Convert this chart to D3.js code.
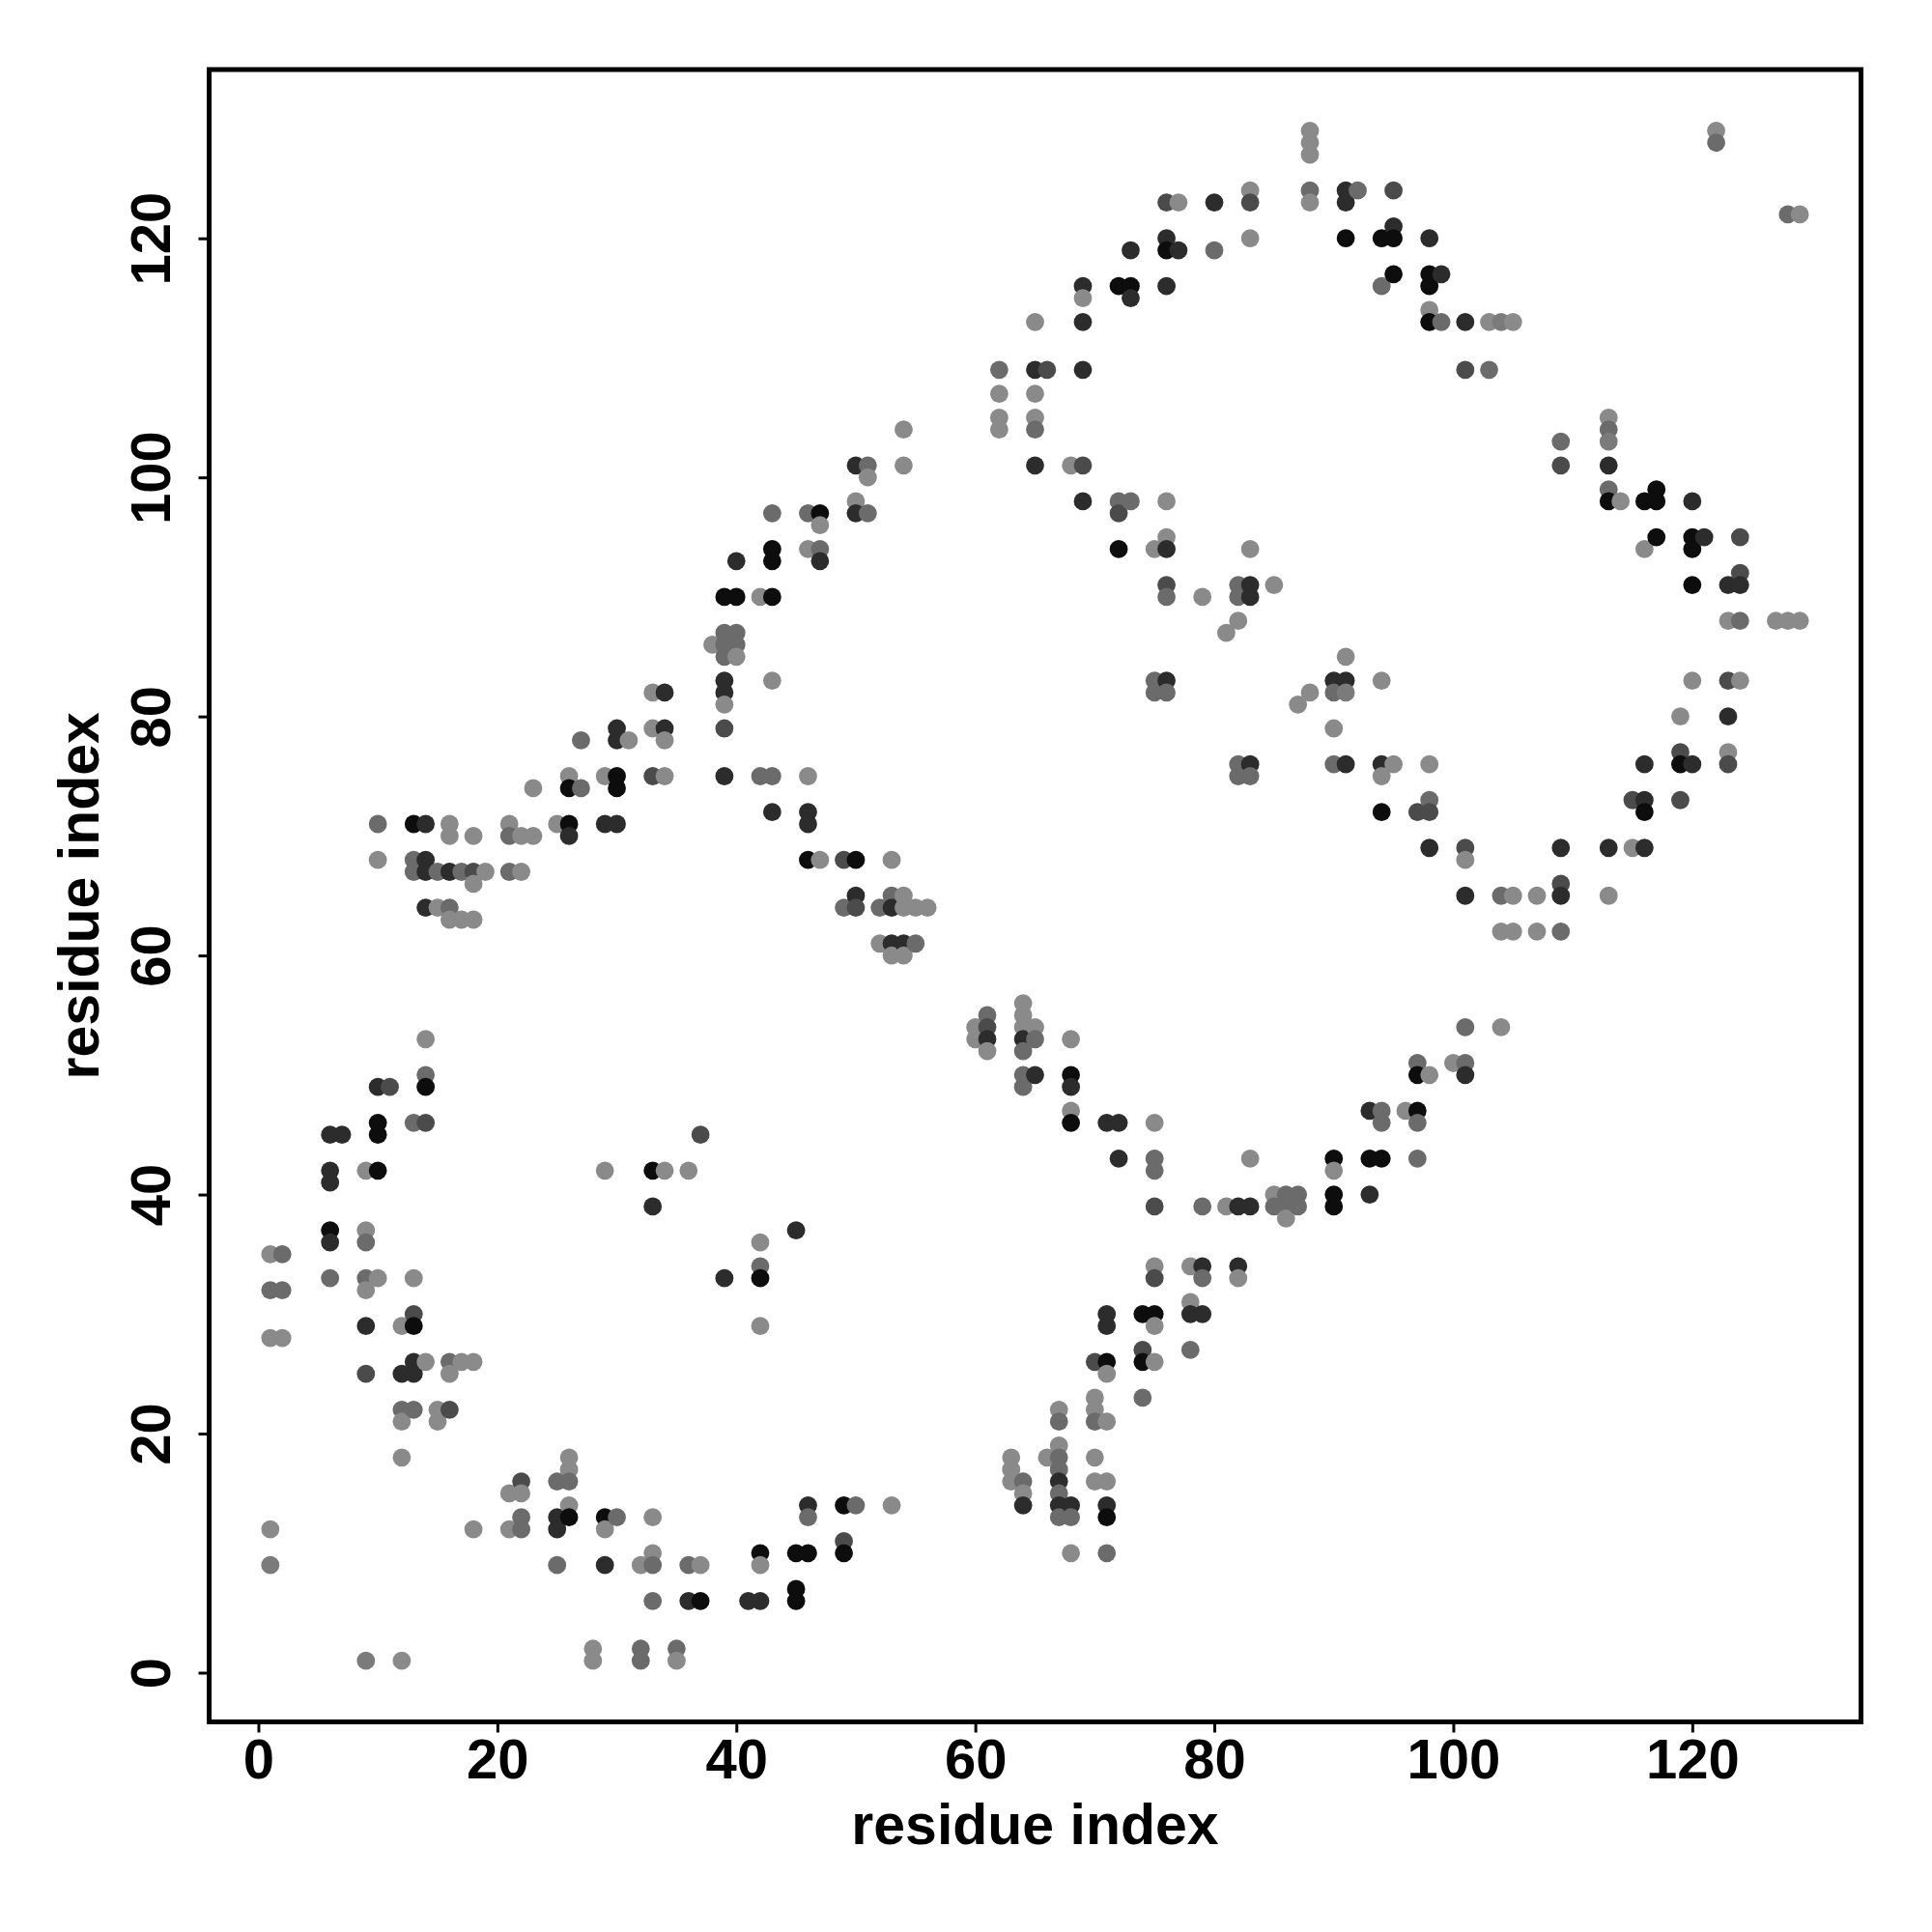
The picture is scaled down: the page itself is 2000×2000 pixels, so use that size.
<!DOCTYPE html>
<html>
<head>
<meta charset="utf-8">
<script src="https://cdn.jsdelivr.net/npm/d3@7"></script>
<style>
  html, body { margin: 0; padding: 0; background: #fff; }
  svg { display: block; }
  text { font-family: "Liberation Sans", Arial, Helvetica, sans-serif; font-weight: bold; }
</style>
</head>
<body>
<svg id="chart" width="2000" height="2000"></svg>
<script>
// residue i (x) of each column of contacts
const residueI = [1,2,6,7,9,10,11,12,13,14,15,16,17,18,19,21,22,23,25,26,27,28,29,30,31,32,33,34,35,36,37,38,39,40,41,42,43,45,46,47,49,50,51,52,53,54,55,56,60,61,62,63,64,65,66,67,68,69,70,71,72,73,74,75,76,77,78,79,80,81,82,83,85,86,87,88,90,91,92,93,94,95,96,97,98,99,100,101,103,104,105,107,109,113,114,115,116,117,119,120,121,122,123,124,127,128,129];

// contact partners j (y) for each residue i
const residueJ = [
  [35,32,28,12,9],[35,32,28],[45,42,41,37,36,33],[45],[42,37,36,33,32,29,25,1],
  [71,68,49,46,45,42,33],[49],[29,25,22,21,18,1],[71,68,67,46,33,30,29,26,25,22],
  [71,68,67,64,53,50,49,46,26],[67,64,22,21],[71,70,67,64,63,26,25,22],[67,63,26],
  [70,67,66,63,26,12],[67],[71,70,67,15,12],[70,67,16,15,13,12],[74,70],[71,16,13,12,9],
  [75,74,71,70,18,17,16,14,13],[78,74],[2,1],[75,71,42,13,12,9],[79,78,75,74,71,13],[78],
  [9,2,1],[82,79,75,42,39,13,10,9,6],[82,79,78,75,42],[2,1],[42,9,6],[45,9,6],[86],
  [90,87,86,85,83,82,81,79,75,33],[93,90,87,86,85],[6],[90,75,36,34,33,29,10,9,6],
  [97,94,93,90,83,75,72],[37,10,7,6],[97,94,75,72,71,68,14,13,10],[97,96,94,93,68],
  [68,64,14,11,10],[101,98,97,68,65,64,14],[101,100,97],[64,61],[68,65,64,61,60,14],
  [104,101,65,64,61,60],[64,61],[64],[54,53],[55,54,53,52],[109,107,105,104],[18,17,16],
  [56,55,54,53,52,50,49,16,15,14],[113,109,107,105,104,101,54,53,50],[109,18],
  [22,21,19,18,17,16,15,14,13],[101,53,50,49,47,46,14,13,10],[116,115,113,109,101,98],
  [26,23,22,21,18,16],[46,30,29,26,25,21,16,14,13,10],[116,98,97,94,46,43],[119,116,115,98],
  [30,27,26,23],[94,83,82,46,43,42,39,34,33,30,29,26],[123,120,119,116,98,95,94,91,90,83,82],
  [123,119],[34,31,30,27],[90,39,34,33,30],[123,119],[87,39],[91,90,88,76,75,39,34,33],
  [124,123,120,94,91,90,76,75,43,39],[91,40,39],[40,39,38],[81,40,39],[129,128,127,124,123,82],
  [83,82,79,76,43,42,40,39],[124,123,120,85,83,82,76],[124],[47,43,40],[120,116,83,76,75,72,47,46,43],
  [124,121,120,117,76],[47],[72,51,50,47,46,43],[120,117,116,114,113,76,73,72,69,50],[117,113],[51],
  [113,109,69,68,65,54,51,50],[113,109],[113,65,62,54],[113,65,62],[65,62],[103,101,69,66,65,62],
  [105,104,103,101,99,98,69,65],[98],[73,69],[98,94,76,73,72,69],[99,98,95],[80,77,76,73],
  [98,95,94,91,83,76],[95],[129,128],[91,88,83,80,77,76],[95,92,91,88,83],[88],[122,88],[122,88]
];

// contact probability (darker = higher) for each point
const contactProb = [
  [.35,.5,.35,.35,.42],[.5,.5,.35],[.8,.8,.8,.95,.8,.5],[.8],[.35,.35,.5,.5,.35,.8,.65,.42],
  [.5,.35,.8,.95,.95,.95,.35],[.65],[.35,.8,.5,.35,.35,.35],[.95,.5,.5,.5,.35,.65,.95,.8,.8,.5],
  [.8,.8,.8,.8,.35,.5,.95,.65,.35],[.5,.35,.35,.35],[.35,.35,.8,.5,.35,.5,.35,.65],[.5,.35,.35],
  [.35,.65,.35,.35,.35,.35],[.35],[.35,.5,.5,.35,.35],[.35,.35,.65,.35,.5,.5],[.35,.35],[.35,.5,.8,.8,.5],
  [.35,.95,.95,.8,.35,.35,.5,.35,.95],[.5,.5],[.35,.35],[.35,.8,.35,.95,.35,.8],[.8,.8,.95,.95,.8,.5],[.35],
  [.35,.5,.5],[.35,.35,.65,.95,.8,.35,.35,.5,.5],[.8,.8,.35,.35,.35],[.5,.35],[.35,.5,.8],[.65,.35,.95],[.35],
  [.95,.5,.5,.5,.8,.8,.35,.65,.8,.8],[.8,.95,.5,.5,.35],[.8],[.35,.5,.35,.5,.95,.35,.95,.35,.8],
  [.5,.95,.95,.95,.35,.5,.8],[.8,.95,.95,.95],[.5,.35,.35,.8,.8,.95,.8,.5,.95],[.95,.35,.5,.8,.35],
  [.65,.5,.95,.65,.95],[.8,.35,.8,.95,.8,.65,.5],[.5,.35,.5],[.5,.35],[.35,.5,.8,.8,.35,.35],
  [.35,.35,.35,.35,.8,.35],[.35,.5],[.35],[.35,.35],[.5,.65,.8,.35],[.5,.35,.35,.35],[.35,.35,.35],
  [.35,.35,.35,.8,.5,.5,.5,.5,.35,.8],[.35,.8,.35,.35,.5,.8,.35,.5,.8],[.65,.35],
  [.35,.5,.35,.5,.5,.8,.5,.8,.5],[.35,.35,.95,.8,.35,.95,.8,.5,.35],[.8,.35,.8,.8,.65,.8],
  [.65,.35,.35,.5,.35,.35],[.8,.8,.8,.95,.35,.35,.35,.8,.95,.5],[.95,.5,.65,.95,.8,.8],[.8,.95,.8,.5],
  [.95,.65,.95,.5],[.35,.5,.5,.35,.5,.5,.65,.35,.65,.95,.35,.35],[.65,.8,.95,.8,.35,.35,.8,.65,.5,.8,.5],
  [.35,.8],[.35,.35,.8,.5],[.35,.5,.8,.5,.8],[.8,.5],[.35,.35],[.5,.5,.35,.5,.5,.8,.8,.35],
  [.35,.65,.35,.35,.8,.8,.8,.5,.35,.8],[.35,.35,.5],[.5,.5,.35],[.35,.5,.5],[.35,.35,.35,.5,.35,.35],
  [.8,.5,.35,.5,.95,.35,.95,.95],[.8,.8,.95,.35,.8,.42,.8],[.5],[.8,.95,.8],[.95,.5,.35,.8,.35,.95,.5,.5,.95],
  [.65,.8,.95,.95,.35],[.35],[.65,.5,.95,.95,.5,.5],[.8,.95,.95,.35,.95,.35,.5,.65,.8,.35],[.8,.5],[.35],
  [.8,.65,.65,.35,.8,.5,.5,.8],[.35,.5],[.42,.5,.35,.35],[.35,.35,.35],[.35,.35],[.5,.65,.8,.65,.8,.5],
  [.35,.5,.42,.8,.5,.95,.8,.35],[.35],[.65,.35],[.95,.35,.8,.8,.95,.8],[.95,.95,.95],[.35,.65,.95,.65],
  [.8,.95,.95,.95,.35,.8],[.8],[.35,.5],[.8,.35,.65,.8,.35,.65],[.65,.65,.8,.5,.35],[.35],[.5,.35],[.35,.35]
];

const tickValues = [0, 20, 40, 60, 80, 100, 120];
const axisTitle = "residue index";

(function () {
  // build point table
  const points = [];
  residueI.forEach((i, k) => {
    residueJ[k].forEach((j, m) => points.push({ i, j, p: contactProb[k][m] }));
  });

  const svg = d3.select("#chart");
  const pLeft = 216.5, pRight = 1926.5, pTop = 72, pBottom = 1782.5;
  const x = d3.scaleLinear().domain([-4.12, 134.12]).range([pLeft, pRight]);
  const y = d3.scaleLinear().domain([-4.12, 134.12]).range([pBottom, pTop]);
  const gray = d3.scaleLinear().domain([0.35, 0.95]).range(["#8a8a8a", "#0d0d0d"]).clamp(true);

  // points
  svg.append("g")
    .selectAll("circle")
    .data(points)
    .join("circle")
    .attr("cx", d => x(d.i))
    .attr("cy", d => y(d.j))
    .attr("r", 9.4)
    .attr("fill", d => gray(d.p));

  // x axis
  const gx = svg.append("g")
    .attr("transform", `translate(0,${pBottom})`)
    .call(d3.axisBottom(x).tickValues(tickValues).tickSize(11).tickSizeOuter(0).tickPadding(6));
  gx.select(".domain").remove();
  gx.selectAll(".tick line").attr("stroke", "#000").attr("stroke-width", 3);
  gx.selectAll(".tick text")
    .attr("font-size", 58).attr("fill", "#000")
    .attr("font-family", '"Liberation Sans", Arial, sans-serif').attr("font-weight", "bold")
    .attr("y", 0).attr("dy", 0)
    .attr("transform", "translate(0,58.5)");

  // y axis
  const gy = svg.append("g")
    .attr("transform", `translate(${pLeft},0)`)
    .call(d3.axisLeft(y).tickValues(tickValues).tickSize(11).tickSizeOuter(0));
  gy.select(".domain").remove();
  gy.selectAll(".tick line").attr("stroke", "#000").attr("stroke-width", 3);
  gy.selectAll(".tick text")
    .attr("font-size", 58).attr("fill", "#000")
    .attr("font-family", '"Liberation Sans", Arial, sans-serif').attr("font-weight", "bold")
    .attr("x", 0).attr("dy", 0)
    .attr("text-anchor", "middle")
    .attr("transform", "translate(-41,0) rotate(-90)");

  // frame
  svg.append("rect")
    .attr("x", pLeft).attr("y", pTop)
    .attr("width", pRight - pLeft).attr("height", pBottom - pTop)
    .attr("fill", "none").attr("stroke", "#000").attr("stroke-width", 5);

  // axis titles
  svg.append("text")
    .attr("x", (pLeft + pRight) / 2).attr("y", 1909)
    .attr("text-anchor", "middle").attr("font-size", 59)
    .text(axisTitle);

  svg.append("text")
    .attr("transform", `translate(102,${(pTop + pBottom) / 2}) rotate(-90)`)
    .attr("text-anchor", "middle").attr("font-size", 59)
    .text(axisTitle);
})();
</script>
</body>
</html>
